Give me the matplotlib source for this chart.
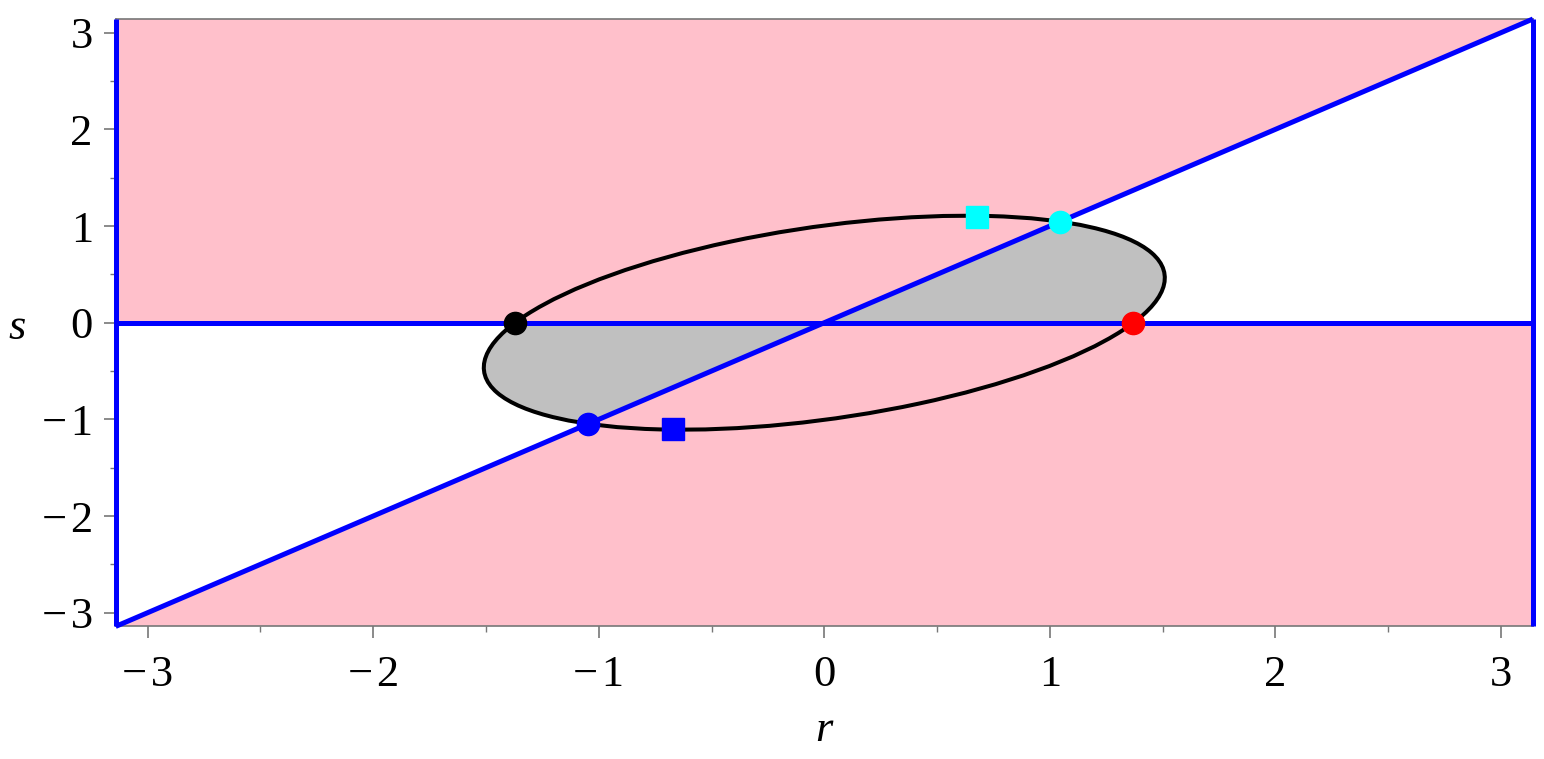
import numpy as np
import matplotlib
matplotlib.use("Agg")
import matplotlib.pyplot as plt
from matplotlib.patches import Ellipse, Polygon

plt.rcParams["font.family"] = ["Liberation Serif", "DejaVu Serif"]
plt.rcParams["mathtext.fontset"] = "custom"

# ---- data ----
r_lim = (-np.pi, np.pi)
s_lim = (-np.pi, np.pi)
major_ticks = [-3, -2, -1, 0, 1, 2, 3]
major_labels = ["\u2212\u200a3", "\u2212\u200a2", "\u2212\u200a1", "0", "1", "2", "3"]
minor_ticks = [-2.5, -1.5, -0.5, 0.5, 1.5, 2.5]

# ellipse (centre, full width, full height, rotation in degrees, data coords)
ell_center = (0.0, 0.0)
ell_width = 3.242
ell_height = 1.872
ell_angle = 26.5

# coloured circles on the ellipse
circ_r = [-1.371, 1.370, 1.046, -1.046]
circ_s = [0.0, 0.0, 1.045, -1.050]
circ_colors = ["black", "red", "cyan", "blue"]

# squares
sq_r = [0.677, -0.670]
sq_s = [1.096, -1.100]
sq_colors = ["cyan", "blue"]

# ---- figure ----
W, H, DPI = 1544, 759, 100
fig = plt.figure(figsize=(W / DPI, H / DPI), dpi=DPI)
ax = fig.add_axes([115.7 / W, 1 - 626.4 / H, (1532.9 - 115.7) / W, (626.4 - 19.0) / H])
ax.set_xlim(*r_lim)
ax.set_ylim(*s_lim)

PINK = "#ffc0cb"
GRAY = "#c0c0c0"
BLUE = "#0000ff"
ax.set_facecolor(PINK)

r0, r1 = r_lim
s0, s1 = s_lim
tri_upper = Polygon([(0, 0), (r1, 0), (r1, s1)], closed=True, facecolor="white",
                    edgecolor="none", zorder=1)
tri_lower = Polygon([(0, 0), (r0, 0), (r0, s0)], closed=True, facecolor="white",
                    edgecolor="none", zorder=1)
ax.add_patch(tri_upper)
ax.add_patch(tri_lower)

for tri in (tri_upper, tri_lower):
    e = Ellipse(ell_center, ell_width, ell_height, angle=ell_angle,
                facecolor=GRAY, edgecolor="none", zorder=2)
    ax.add_patch(e)
    e.set_clip_path(tri)

ax.add_patch(Ellipse(ell_center, ell_width, ell_height, angle=ell_angle,
                     facecolor="none", edgecolor="black", lw=2.9, zorder=3))

# blue boundary lines
lw_blue = 3.6
for xs, ys in (([r0, r1], [0, 0]), ([r0, r1], [s0, s1]),
               ([r0, r0], [s0, s1]), ([r1, r1], [s0, s1])):
    ax.plot(xs, ys, color=BLUE, lw=lw_blue, zorder=4, clip_on=False,
            solid_capstyle="butt")

# markers
for r, s, c in zip(circ_r, circ_s, circ_colors):
    ax.plot([r], [s], "o", color=c, ms=16, mec=c, zorder=6)
for r, s, c in zip(sq_r, sq_s, sq_colors):
    ax.plot([r], [s], "s", color=c, ms=15.5, mec=c, zorder=6)

# axes styling
frame_col = "#777777"
for sp in ax.spines.values():
    sp.set_color(frame_col)
    sp.set_linewidth(1.2)
ax.set_xticks(major_ticks)
ax.set_xticklabels(major_labels)
ax.set_yticks(major_ticks)
ax.set_yticklabels(major_labels)
ax.set_xticks(minor_ticks, minor=True)
ax.set_yticks(minor_ticks, minor=True)
ax.tick_params(which="major", direction="out", length=8.5, width=1.2, color=frame_col,
               labelsize=32)
ax.tick_params(which="minor", direction="out", length=4.5, width=1.0, color=frame_col)
ax.tick_params(axis="x", which="major", pad=12)
ax.tick_params(axis="y", which="major", pad=8)

fig.text(824 / W, 1 - 730 / H, "r", style="italic", fontsize=32,
         ha="center", va="center")
fig.text(17 / W, 1 - 328 / H, "s", style="italic", fontsize=32,
         ha="center", va="center")

fig.savefig("out.png", dpi=DPI)
